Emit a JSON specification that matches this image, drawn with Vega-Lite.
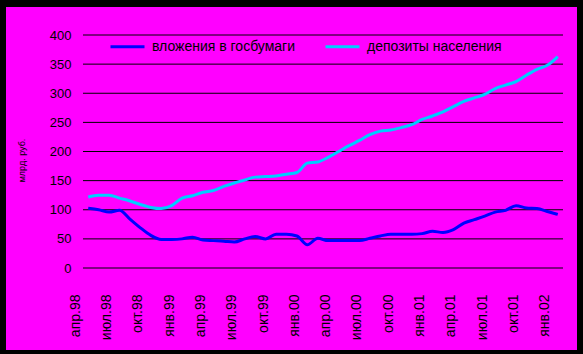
{
  "$schema": "https://vega.github.io/schema/vega-lite/v6.json",
  "width": 571,
  "height": 343,
  "autosize": "none",
  "padding": {"left": 6, "top": 7, "right": 6, "bottom": 4},
  "background": "#000000",
  "config": {
    "view": {"fill": "#FF00FF", "stroke": null},
    "font": "Liberation Sans",
    "axis": {"labelColor": "#000000", "titleColor": "#000000", "labelFont": "Liberation Sans", "titleFont": "Liberation Sans"},
    "legend": {"labelColor": "#000000", "labelFont": "Liberation Sans"}
  },
  "datasets": {
    "grid": [
      {"val": 0, "t": -0.5, "t2": 45.5},
      {"val": 50, "t": -0.5, "t2": 45.5},
      {"val": 100, "t": -0.5, "t2": 45.5},
      {"val": 150, "t": -0.5, "t2": 45.5},
      {"val": 200, "t": -0.5, "t2": 45.5},
      {"val": 250, "t": -0.5, "t2": 45.5},
      {"val": 300, "t": -0.5, "t2": 45.5},
      {"val": 350, "t": -0.5, "t2": 45.5},
      {"val": 400, "t": -0.5, "t2": 45.5}
    ],
    "series": [
      {"t": 0, "gos": 102.5, "dep": 122},
      {"t": 1, "gos": 100, "dep": 125},
      {"t": 2, "gos": 96, "dep": 125},
      {"t": 3, "gos": 99, "dep": 120},
      {"t": 4, "gos": 84, "dep": 115},
      {"t": 5, "gos": 69, "dep": 109},
      {"t": 6, "gos": 56, "dep": 104},
      {"t": 7, "gos": 49, "dep": 102},
      {"t": 8, "gos": 49, "dep": 107},
      {"t": 9, "gos": 50, "dep": 120},
      {"t": 10, "gos": 53, "dep": 124},
      {"t": 11, "gos": 48, "dep": 130},
      {"t": 12, "gos": 47, "dep": 133},
      {"t": 13, "gos": 46, "dep": 140},
      {"t": 14, "gos": 44.6, "dep": 146},
      {"t": 15, "gos": 50, "dep": 151},
      {"t": 16, "gos": 54, "dep": 156},
      {"t": 17, "gos": 50, "dep": 157},
      {"t": 18, "gos": 58, "dep": 158},
      {"t": 19, "gos": 58, "dep": 161},
      {"t": 20, "gos": 55, "dep": 164},
      {"t": 21, "gos": 40, "dep": 180},
      {"t": 22, "gos": 51, "dep": 182},
      {"t": 23, "gos": 47, "dep": 190},
      {"t": 24, "gos": 47, "dep": 200},
      {"t": 25, "gos": 47, "dep": 210},
      {"t": 26, "gos": 47, "dep": 219},
      {"t": 27, "gos": 51, "dep": 229},
      {"t": 28, "gos": 55, "dep": 235},
      {"t": 29, "gos": 58, "dep": 237},
      {"t": 30, "gos": 58, "dep": 241},
      {"t": 31, "gos": 58, "dep": 246},
      {"t": 32, "gos": 59, "dep": 255},
      {"t": 33, "gos": 63, "dep": 261},
      {"t": 34, "gos": 61, "dep": 268},
      {"t": 35, "gos": 66, "dep": 277},
      {"t": 36, "gos": 77, "dep": 286},
      {"t": 37, "gos": 83, "dep": 292},
      {"t": 38, "gos": 89, "dep": 298},
      {"t": 39, "gos": 96, "dep": 308},
      {"t": 40, "gos": 99, "dep": 314},
      {"t": 41, "gos": 107, "dep": 320},
      {"t": 42, "gos": 103, "dep": 331},
      {"t": 43, "gos": 102, "dep": 341},
      {"t": 44, "gos": 97, "dep": 348},
      {"t": 45, "gos": 92, "dep": 363}
    ]
  },
  "encoding": {
    "x": {"field": "t", "type": "quantitative", "scale": {"domain": [-7.879, 46.842], "nice": false, "zero": false},
      "axis": {"values": [0, 3, 6, 9, 12, 15, 18, 21, 24, 27, 30, 33, 36, 39, 42, 45], "offset": -82, "domain": false, "ticks": false, "grid": false,
        "labelAngle": 270, "labelPadding": 26, "labelOffset": -13, "labelFontSize": 14, "labelOverlap": false, "labelFlush": false, "labelBound": false, "title": null,
        "labelExpr": "['апр.98','июл.98','окт.98','янв.99','апр.99','июл.99','окт.99','янв.00','апр.00','июл.00','окт.00','янв.01','апр.01','июл.01','окт.01','янв.02'][round(datum.value/3)]"}},
    "y": {"field": "val", "type": "quantitative", "scale": {"domain": [-140.77, 448.07], "nice": false, "zero": false},
      "axis": {"values": [0, 50, 100, 150, 200, 250, 300, 350, 400], "offset": -77, "domain": false, "ticks": false, "grid": false,
        "labelPadding": 12, "labelFontSize": 13, "title": "млрд. руб.", "titleFontSize": 9, "titleFontWeight": "normal",
        "titleX": -62, "titleY": 153, "titleAngle": 270, "titleAlign": "center", "titleBaseline": "middle"}}
  },
  "layer": [
    {
      "data": {"name": "grid"},
      "mark": {"type": "rule", "color": "#000000", "strokeWidth": 1},
      "encoding": {
        "x2": {"field": "t2"}
      }
    },
    {
      "data": {"name": "series"},
      "transform": [{"fold": ["gos", "dep"], "as": ["key", "val"]}],
      "mark": {"type": "line", "strokeWidth": 3, "interpolate": "monotone"},
      "encoding": {
        "color": {"field": "key", "type": "nominal",
          "scale": {"domain": ["gos", "dep"], "range": ["#0000FF", "#00CCFF"]},
          "legend": {"orient": "none", "legendX": 103, "legendY": 21, "direction": "horizontal", "title": null,
            "symbolType": "stroke", "symbolStrokeWidth": 3, "symbolSize": 1156, "labelFontSize": 14, "labelOffset": 6, "columnPadding": 23, "padding": 0,
            "labelExpr": "datum.value == 'gos' ? 'вложения в госбумаги' : 'депозиты населения'"}}
      }
    }
  ]
}
